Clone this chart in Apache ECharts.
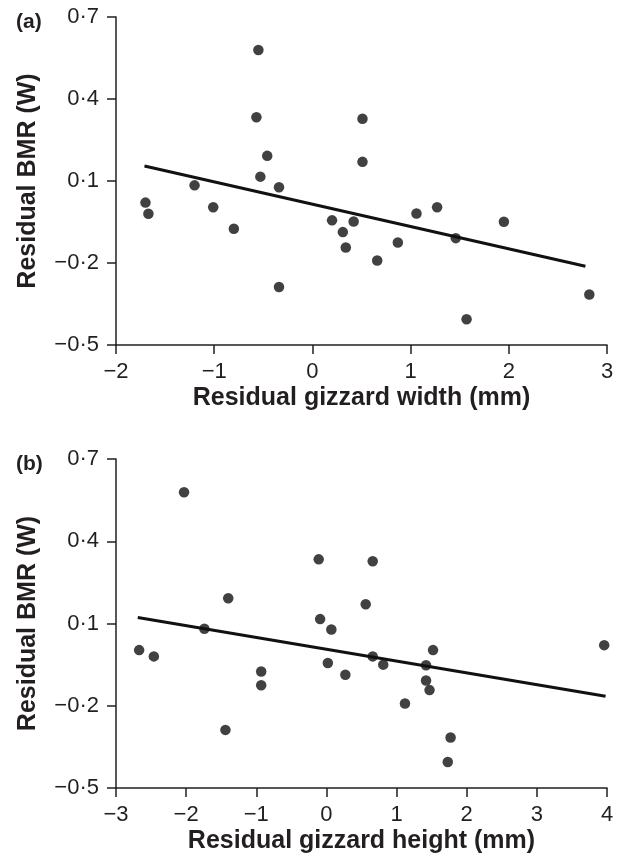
<!DOCTYPE html>
<html>
<head>
<meta charset="utf-8">
<script src="https://cdn.jsdelivr.net/npm/echarts@6/dist/echarts.min.js"></script>
<style>
  html, body { margin: 0; padding: 0; background: #fff; }
  #chart { width: 623px; height: 857px; }
</style>
</head>
<body>
<div id="chart"></div>
<script>
// panel (a): residual gizzard width vs residual BMR
const widthX = [-1.70, -1.67, -1.20, -1.01, -0.80, -0.55, -0.57, -0.46, -0.53, -0.34, -0.34,
  0.20, 0.31, 0.34, 0.42, 0.51, 0.51, 0.66, 0.87, 1.06, 1.27, 1.46, 1.57, 1.95, 2.82]
const widthY = [0.021, -0.020, 0.084, 0.004, -0.075, 0.579, 0.333, 0.192, 0.116, 0.077, -0.288,
  -0.044, -0.087, -0.143, -0.048, 0.328, 0.170, -0.191, -0.125, -0.019, 0.004, -0.109, -0.406, -0.049, -0.315]
const widthFitX = [-1.71, 2.78]
const widthFitY = [0.155, -0.212]

// panel (b): residual gizzard height vs residual BMR
const heightX = [-2.67, -2.46, -2.03, -1.74, -1.40, -1.44, -0.93, -0.93, -0.11, -0.09, 0.07,
  0.02, 0.27, 0.56, 0.66, 0.66, 0.81, 1.12, 1.42, 1.42, 1.47, 1.52, 1.77, 1.73, 3.96]
const heightY = [0.003, -0.020, 0.579, 0.081, 0.192, -0.288, -0.075, -0.125, 0.334, 0.116, 0.078,
  -0.044, -0.087, 0.170, 0.327, -0.020, -0.050, -0.192, -0.052, -0.108, -0.143, 0.003, -0.316, -0.405, 0.021]
const heightFitX = [-2.69, 3.98]
const heightFitY = [0.122, -0.165]

const yTicks = [-0.5, -0.2, 0.1, 0.4, 0.7]
const xTicksA = [-2, -1, 0, 1, 2, 3]
const xTicksB = [-3, -2, -1, 0, 1, 2, 3, 4]

const ink = '#231f20'
const font = 'Liberation Sans, Arial, Helvetica, sans-serif'

function pairs(xs, ys) {
  return xs.map((x, i) => [x, ys[i]])
}
function fmtY(v) {
  const s = Math.abs(v).toFixed(1).replace('.', '\u00b7')
  return v < -1e-9 ? '\u2212' + s : s
}
function fmtX(v) {
  return v < 0 ? '\u2212' + Math.abs(v) : String(v)
}

function xAxis(idx, ticks, name) {
  return {
    type: 'value',
    gridIndex: idx,
    min: ticks[0],
    max: ticks[ticks.length - 1],
    interval: 1,
    name: name,
    nameLocation: 'middle',
    nameGap: 41,
    nameTextStyle: { fontFamily: font, fontSize: 25, fontWeight: 'bold', color: ink },
    axisLine: { onZero: false, lineStyle: { color: ink, width: 1.5 } },
    axisTick: { show: true, length: 9, lineStyle: { color: ink, width: 1.5 } },
    axisLabel: { margin: 16, fontFamily: font, fontSize: 22, color: ink, formatter: fmtX },
    splitLine: { show: false }
  }
}
function yAxis(idx) {
  return {
    type: 'value',
    gridIndex: idx,
    min: yTicks[0],
    max: yTicks[yTicks.length - 1],
    interval: 0.3,
    name: 'Residual BMR (W)',
    nameLocation: 'middle',
    nameGap: 75,
    nameTextStyle: { fontFamily: font, fontSize: 25, fontWeight: 'bold', color: ink },
    axisLine: { show: true, onZero: false, lineStyle: { color: ink, width: 1.5 } },
    axisTick: { show: true, length: 9, lineStyle: { color: ink, width: 1.5 } },
    axisLabel: { margin: 17, fontFamily: font, fontSize: 22, color: ink, formatter: fmtY },
    splitLine: { show: false }
  }
}

const chart = echarts.init(document.getElementById('chart'))
chart.setOption({
  animation: false,
  title: [
    { text: '(a)', left: 16, top: 12, padding: 0, textStyle: { fontFamily: font, fontSize: 21, fontWeight: 'bold', color: ink } },
    { text: '(b)', left: 16, top: 454, padding: 0, textStyle: { fontFamily: font, fontSize: 21, fontWeight: 'bold', color: ink } }
  ],
  grid: [
    { left: 116, top: 17, width: 491, height: 328 },
    { left: 116, top: 459, width: 491, height: 329 }
  ],
  xAxis: [
    xAxis(0, xTicksA, 'Residual gizzard width (mm)'),
    xAxis(1, xTicksB, 'Residual gizzard height (mm)')
  ],
  yAxis: [yAxis(0), yAxis(1)],
  series: [
    {
      type: 'scatter', xAxisIndex: 0, yAxisIndex: 0,
      data: pairs(widthX, widthY),
      symbolSize: 10.5, itemStyle: { color: '#111' }
    },
    {
      type: 'line', xAxisIndex: 0, yAxisIndex: 0,
      data: pairs(widthFitX, widthFitY),
      showSymbol: false, lineStyle: { color: '#111', width: 3 }
    },
    {
      type: 'scatter', xAxisIndex: 1, yAxisIndex: 1,
      data: pairs(heightX, heightY),
      symbolSize: 10.5, itemStyle: { color: '#111' }
    },
    {
      type: 'line', xAxisIndex: 1, yAxisIndex: 1,
      data: pairs(heightFitX, heightFitY),
      showSymbol: false, lineStyle: { color: '#111', width: 3 }
    }
  ]
})
</script>
</body>
</html>
